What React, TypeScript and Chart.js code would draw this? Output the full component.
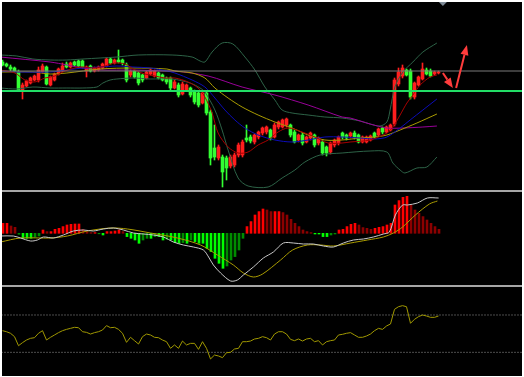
import React, { useEffect, useRef } from "react";
import { Chart, registerables } from "chart.js";
Chart.register(...registerables);

// ---------------- DATA ----------------
// Candles (price units), index 0..109
const candleOpen = [
  138,136,133,132,128,109,114,117,120,120,
  128,133,115,120,126,129,136,133,138,139,
  139,129,134,129,130,132,134,141,137,140,
  140,135,125,129,127,125,122,126,124,127,
  125,122,122,112,115,106,110,112,108,107,
  97,107,88,52,42,43,42,34,35,45,
  45,62,63,58,63,67,68,70,63,73,
  73,75,75,68,60,65,58,62,65,57,
  58,53,48,55,57,67,65,64,67,65,
  58,58,60,67,65,72,68,70,76,116,
  124,130,129,103,115,121,130,129,126,127,
];
const candleHigh = [
  140,137,135,133,130,117,120,123,125,133,
  136,134,124,127,132,137,138,138,139,140,
  140,134,135,133,134,137,142,142,141,150,
  141,137,130,130,128,126,129,131,130,128,
  126,123,123,120,117,118,116,113,110,108,
  109,108,90,75,55,45,44,45,47,57,
  60,75,65,66,69,73,74,71,77,79,
  81,82,76,70,66,67,64,68,66,63,
  60,54,58,61,64,68,66,68,69,66,
  64,64,65,68,72,73,74,76,122,132,
  135,131,131,118,124,137,132,131,129,129,
];
const candleLow = [
  134,133,129,128,109,101,113,116,119,118,
  127,115,114,119,125,128,132,132,134,133,
  132,123,128,128,129,131,133,136,136,137,
  135,118,123,122,115,118,121,125,123,121,
  119,116,110,111,103,105,109,103,96,93,
  96,85,35,40,40,13,20,32,33,43,
  43,58,57,56,61,65,66,60,62,71,
  72,73,63,57,58,55,57,60,53,55,
  45,44,46,53,55,61,60,62,61,57,
  57,57,59,62,64,66,67,69,74,114,
  122,124,101,101,114,120,125,123,125,126,
];
const candleClose = [
  135,134,131,129,110,115,119,122,124,130,
  134,116,123,126,131,134,133,137,135,134,
  133,133,129,132,133,136,141,137,140,138,
  137,120,129,123,117,120,128,130,129,122,
  120,118,112,118,105,116,115,105,98,95,
  107,87,42,43,53,28,32,43,45,55,
  58,60,59,65,68,72,73,62,75,78,
  80,81,65,58,65,57,63,67,55,62,
  47,47,57,60,63,63,62,67,63,58,
  63,63,64,63,71,68,73,75,120,128,
  132,125,103,117,123,131,126,124,128,128,
];

// Horizontal levels
const resistanceLevel = 129;
const supportLevel = 109;

// Bollinger bands & moving averages (sample index, value)
const bbUpperX = [-0.6,3.6,7.6,11.9,16.1,20.1,24.4,28.6,33.9,42.4,47.4,49.4,50.6,52.4,54.9,57.6,60.6,63.1,65.6,68.1,69.9,72.4,76.4,80.6,84.9,89.4,91.9,94.4,96.1,96.9,98.1,100.1,102.6,105.1,108.6];
const bbUpperY = [145,144,141,140,140,141,142,143,145,145,143,139,138,148,157,156,143,130,113,100,90,87,85,83,82,79,76,74,78,90,113,128,138,148,157];
const bbLowerX = [-0.6,3.6,7.6,11.9,16.1,20.1,23.6,25.1,26.9,28.6,32.6,36.9,42.4,46.9,49.4,50.6,53.1,54.9,56.4,58.9,61.4,66.4,69.9,73.1,75.6,79.4,84.9,91.9,96.1,97.6,99.4,100.6,103.6,106.1,108.6];
const bbLowerY = [112,111,113,112,112,112,113,117,120,121,122,121,121,117,112,108,90,70,50,22,14,13,22,30,38,45,47,49,48,37,30,27,32,33,43];
const maRedX = [-0.6,3.1,5.6,8.1,10.6,13.1,15.6,19.4,23.1,25.6,28.1,30.6,33.1,35.6,38.1,40.6,43.1,46.4,48.9,50.6,52.4,53.9,56.4,58.9,61.4,63.9,66.4,68.9,71.4,74.9,78.1,81.4,84.9,86.9,91.9,96.1,97.6,99.4,101.1,102.6,104.4,106.9,108.6];
const maRedY = [130,127,120,118,122,124,129,133,132,134,137,136,130,126,124,122,122,118,112,103,87,67,53,47,48,55,60,68,72,68,63,57,57,58,60,67,73,85,97,105,115,123,125];
const maBlueX = [-0.6,3.6,11.9,16.1,20.1,24.4,28.6,32.6,36.9,41.1,43.1,47.4,50.6,53.1,55.6,58.1,60.6,63.9,68.1,72.4,76.4,80.6,84.9,89.4,93.1,96.1,99.4,101.9,105.1,108.6];
const maBlueY = [129,128,128,130,132,133,134,133,132,129,127,120,113,102,90,80,72,65,60,58,60,63,63,62,61,63,72,80,90,101];
const maYellowX = [-0.6,7.6,11.9,16.1,24.4,32.6,41.1,43.1,47.4,50.6,53.1,56.4,59.9,63.9,68.1,72.4,76.4,80.6,84.9,89.4,93.1,96.1,99.4,103.6,108.6];
const maYellowY = [128,128,126,127,131,132,131,129,127,122,112,102,93,85,78,72,65,60,60,62,63,65,70,77,86];
const maPurpleX = [-0.6,11.9,16.1,20.1,24.4,32.6,41.1,43.1,51.4,59.9,68.1,76.4,84.9,86.9,91.9,96.1,100.1,105.1,108.6];
const maPurpleY = [143,138,135,132,130,130,129,129,124,113,105,95,83,82,76,72,72,73,74];

// Annotation arrows (index, price)
const arrowFrom = [[110.1, 127], [113.4, 112]];
const arrowTo = [[112.6, 112], [116.1, 155]];
const markerIndex = 110.1;

// MACD histogram, one per candle
const macdHist = [
  10,10,7.3,6,-1,-5,-5,-5,-4,-2.7,
  3.3,1.7,1.7,4,5,6.7,8.3,9,9.3,9.3,
  4,1.7,0.7,0.7,-0.5,-1.7,1.7,1.7,2.3,3.3,
  1.7,-3.3,-5,-6.7,-10,-6.7,-5,-5,-3.3,-3.3,
  -6.7,-6,-6.7,-9.3,-10,-9.3,-10,-6.7,-8.3,-10,
  -10,-15,-18.3,-25,-30,-35,-32.7,-26.7,-23.3,-16.7,
  -5,6.7,11.7,18.3,21.7,24.3,23.3,21.7,21.7,21.7,
  20.7,18.3,14,10,6.7,3.3,1.7,0.7,-0.7,-0.7,
  -3.3,-3.3,-1.7,-0.7,3.3,4,6.7,9,10,8.3,
  5.7,5,4,5,6,6.7,8.3,10,28.3,32.7,
  36,37,28.3,23.3,20,16.7,13.3,10,6.7,4,
];
const macdLineX = [-0.6,2.6,4.4,6.9,8.6,10.1,12.6,15.1,17.6,20.1,22.6,25.1,27.6,30.1,32.6,35.1,37.6,40.1,42.6,45.1,47.6,50.1,51.4,52.6,54.4,56.9,58.6,60.1,62.6,65.1,67.6,70.1,72.6,75.1,77.6,80.1,82.6,85.1,87.6,90.1,92.6,95.1,96.6,98.1,99.9,101.1,103.6,106.1,108.9];
const macdLineY = [-2.7,-2.7,-4.7,-7.7,-6.7,-3.7,-4.7,-1.7,2.3,3.3,2.3,4.3,5.3,3.3,0.3,-0.7,-1.7,-3.7,-8.7,-11.7,-13.7,-16.7,-23.7,-31.7,-39.7,-47.7,-46.7,-41.7,-33.7,-24.7,-18.7,-9.7,-9.7,-10.7,-10.7,-12.7,-13.7,-9.7,-6.7,-5.7,-3.7,-0.7,1.3,18.3,28.3,28.3,30.3,35.3,35.3];
const signalX = [-0.6,4.4,11.9,16.1,21.1,26.9,31.1,36.9,43.6,49.4,53.6,57.6,60.1,62.6,64.9,69.4,72.4,76.1,79.4,82.6,86.9,91.1,95.1,97.6,99.9,103.1,106.6,108.6];
const signalY = [-8.7,-4.7,-4.7,-2.7,2.3,5.3,4.3,0.3,-4.7,-11.7,-21.7,-31.7,-39.7,-43.7,-40.7,-26.7,-16.7,-11.7,-11.7,-12.7,-9.7,-6.7,-3.7,0.3,6.3,18.3,29.3,32.3];

// RSI, one per candle
const rsi = [
  53.2,52.1,50.4,46.8,37.1,40.4,43.2,45.0,45.7,50.4,
  53.2,43.2,46.1,48.6,51.1,53.2,54.6,55.7,56.8,56.4,
  52.1,51.4,49.6,51.1,52.1,53.9,58.6,56.4,56.8,54.6,
  50.4,40.7,46.1,42.5,38.9,46.8,49.6,48.6,46.1,45.7,
  43.2,41.4,34.3,37.9,34.3,42.1,37.9,39.6,39.6,33.2,
  41.4,34.3,22.9,27.1,26.1,24.3,29.6,30.0,33.6,34.3,
  41.4,41.4,42.1,44.3,45.0,46.8,45.7,43.2,49.6,52.1,
  52.1,49.6,43.9,42.5,44.3,42.1,44.3,45.0,41.4,42.5,
  37.9,41.4,42.5,43.2,48.6,49.3,50.4,51.1,48.6,46.1,
  46.1,47.5,49.6,53.2,55.7,54.6,58.2,60.4,76.1,78.9,
  80.0,78.9,61.1,65.4,68.2,70.0,68.9,67.5,67.5,68.9,
];
const rsiLevels = [70, 30];

// ---------------- HELPERS ----------------
const idx = candleOpen.map((_, i) => i);
const zip = (xs: number[], ys: number[]) => xs.map((x, i) => ({ x, y: ys[i] }));

const baseOpts = (xMin: number, yMin: number, yMax: number) => ({
  responsive: false,
  animation: false as const,
  devicePixelRatio: 1,
  events: [] as any[],
  layout: { padding: 0 },
  plugins: { legend: { display: false }, tooltip: { enabled: false } },
  scales: {
    x: { type: "linear" as const, display: false, offset: false, min: xMin, max: xMin + 130 },
    y: { type: "linear" as const, display: false, min: yMin, max: yMax },
  },
});

const lineDs = (xs: number[], ys: number[], color: string, order = 1, extra: any = {}) => ({
  type: "line" as const,
  data: zip(xs, ys),
  borderColor: color,
  borderWidth: 1,
  pointRadius: 0,
  tension: 0.3,
  fill: false,
  order,
  ...extra,
});

const arrowPlugin = {
  id: "arrows",
  afterDatasetsDraw(chart: any) {
    const { ctx, scales } = chart;
    const xs = scales.x, ys = scales.y;
    ctx.save();
    ctx.strokeStyle = "#ff3c3c";
    ctx.fillStyle = "#ff3c3c";
    ctx.lineWidth = 2;
    arrowFrom.forEach((f, k) => {
      const t = arrowTo[k];
      const x1 = xs.getPixelForValue(f[0]), y1 = ys.getPixelForValue(f[1]);
      const x2 = xs.getPixelForValue(t[0]), y2 = ys.getPixelForValue(t[1]);
      const a = Math.atan2(y2 - y1, x2 - x1);
      const head = 10, hw = 4;
      const bx = x2 - head * Math.cos(a), by = y2 - head * Math.sin(a);
      ctx.beginPath();
      ctx.moveTo(x1, y1);
      ctx.lineTo(bx, by);
      ctx.stroke();
      ctx.beginPath();
      ctx.moveTo(x2, y2);
      ctx.lineTo(bx + hw * Math.sin(a), by - hw * Math.cos(a));
      ctx.lineTo(bx - hw * Math.sin(a), by + hw * Math.cos(a));
      ctx.closePath();
      ctx.fill();
    });
    const mx = xs.getPixelForValue(markerIndex);
    ctx.fillStyle = "#7d8a96";
    ctx.beginPath();
    ctx.moveTo(mx - 4, 0);
    ctx.lineTo(mx + 4, 0);
    ctx.lineTo(mx, 4);
    ctx.closePath();
    ctx.fill();
    ctx.restore();
  },
};

export default function App() {
  const mainRef = useRef<HTMLCanvasElement>(null);
  const macdRef = useRef<HTMLCanvasElement>(null);
  const rsiRef = useRef<HTMLCanvasElement>(null);

  useEffect(() => {
    document.body.style.margin = "0";
    const upC = "#ff1e1e", dnC = "#33ff33";
    const cColors = idx.map((i) => (candleClose[i] >= candleOpen[i] ? upC : dnC));

    const main = new Chart(mainRef.current!, {
      type: "bar",
      data: {
        datasets: [
          {
            type: "bar",
            data: idx.map((i) => ({ x: i, y: [candleLow[i], candleHigh[i]] })) as any,
            backgroundColor: cColors,
            barThickness: 1,
            grouped: false,
            order: 20,
          } as any,
          {
            type: "bar",
            data: idx.map((i) => ({ x: i, y: [candleOpen[i], candleClose[i]] })) as any,
            backgroundColor: cColors,
            barThickness: 3,
            minBarLength: 1,
            grouped: false,
            order: 19,
          } as any,
          lineDs(bbUpperX, bbUpperY, "#2d6347", 5),
          lineDs(bbLowerX, bbLowerY, "#2d6347", 5),
          lineDs(maPurpleX, maPurpleY, "#990099", 4),
          lineDs(maYellowX, maYellowY, "#aa9c00", 3),
          lineDs(maBlueX, maBlueY, "#0c0cb8", 2),
          lineDs(maRedX, maRedY, "#a80000", 1),
          lineDs([-1, 131], [resistanceLevel, resistanceLevel], "#7a7a7a", 0, { tension: 0 }),
          lineDs([-1, 131], [supportLevel, supportLevel], "#22dd66", 0, { tension: 0, borderWidth: 2 }),
        ],
      },
      options: baseOpts(-0.125, 10, 198) as any,
      plugins: [arrowPlugin],
    });

    const hColors = macdHist.map((h, i) => {
      const prev = i > 0 ? Math.abs(macdHist[i - 1]) : 0;
      const grow = Math.abs(h) >= prev;
      if (h >= 0) return grow ? "#ff0000" : "#8c0000";
      return grow ? "#00ff00" : "#008c00";
    });
    const macd = new Chart(macdRef.current!, {
      type: "bar",
      data: {
        datasets: [
          {
            type: "bar",
            data: idx.map((i) => ({ x: i, y: macdHist[i] })) as any,
            backgroundColor: hColors,
            barThickness: 2,
            grouped: false,
            order: 10,
          } as any,
          lineDs(signalX, signalY, "#aa9c00", 2),
          lineDs(macdLineX, macdLineY, "#c8c8c8", 1),
        ],
      },
      options: baseOpts(-0.25, -51.7, 41.3) as any,
    });

    const rsiChart = new Chart(rsiRef.current!, {
      type: "line",
      data: {
        datasets: [
          ...rsiLevels.map((lv) =>
            lineDs([-1, 131], [lv, lv], "#9a9a9a", 2, { tension: 0, borderDash: [1, 2] })
          ),
          lineDs(idx, rsi, "#a09800", 1, { tension: 0 }),
        ] as any,
      },
      options: baseOpts(-0.125, 4.64, 100) as any,
    });

    return () => {
      main.destroy();
      macd.destroy();
      rsiChart.destroy();
    };
  }, []);

  const abs = (top: number, h: number, extra: any = {}) => ({
    position: "absolute" as const, left: 2, top, width: 520, height: h, ...extra,
  });

  return (
    <div style={{ position: "relative", width: 524, height: 377, background: "#ffffff" }}>
      <div style={abs(2, 374, { background: "#000" })} />
      <canvas ref={mainRef} width={520} height={188} style={abs(2, 188)} />
      <div style={abs(190, 2, { background: "#a6a6a6" })} />
      <canvas ref={macdRef} width={520} height={93} style={abs(192, 93)} />
      <div style={abs(285, 2, { background: "#a6a6a6" })} />
      <canvas ref={rsiRef} width={520} height={89} style={abs(287, 89)} />
    </div>
  );
}
